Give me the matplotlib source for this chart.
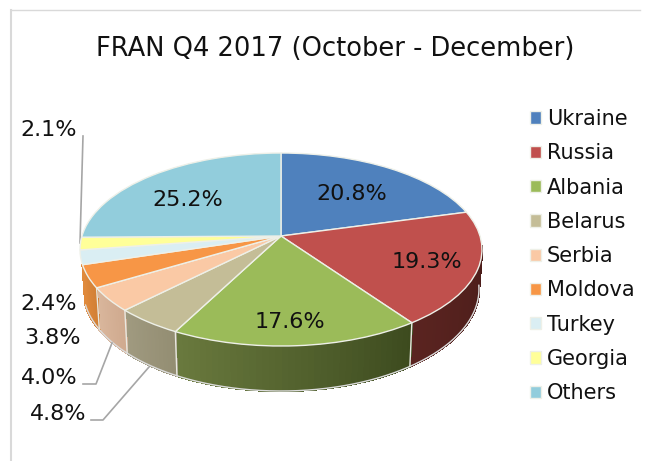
import numpy as np
import matplotlib
matplotlib.use("Agg")
import matplotlib.pyplot as plt
from matplotlib.transforms import Transform
from matplotlib.colors import to_rgb

title = "FRAN Q4 2017 (October - December)"
categories = ["Ukraine", "Russia", "Albania", "Belarus", "Serbia", "Moldova", "Turkey", "Georgia", "Others"]
values = [20.8, 19.3, 17.6, 4.8, 4.0, 3.8, 2.4, 2.1, 25.2]
colors = ["#4f81bd", "#c0504d", "#9bbb59", "#c4bd97", "#fac9a5", "#f79646", "#daeef3", "#ffff99", "#92cddc"]
side_left = ["#4f81bd", "#5a2420", "#6a7a3e", "#a09a80", "#d9b69c", "#e08a3c", "#c8dde2", "#e6e68a", "#84b9c6"]
side_right = ["#4f81bd", "#4a1c1a", "#3c4a1e", "#938d72", "#cfa98e", "#d07f35", "#c8dde2", "#e6e68a", "#84b9c6"]

CX, CY, A, B, K, DEPTH, SHRINK = 281.0, 236.0, 199.0, 94.6, 0.14, 38.7, 0.985


class Perspective(Transform):
    input_dims = 2
    output_dims = 2

    def transform_non_affine(self, xy):
        xy = np.asarray(xy, float)
        w = 1 + K * xy[:, 1]
        return np.column_stack([CX + A * xy[:, 0] / w, CY - B * xy[:, 1] / w])


def rim(theta):
    u, v = np.sin(theta), np.cos(theta)
    w = 1 + K * v
    return CX + A * u / w, CY - B * v / w


def rim_low(theta):
    x, y = rim(theta)
    return CX + (x - CX) * SHRINK, y + DEPTH / (1 + K * np.cos(theta))


fig = plt.figure(figsize=(6.52, 4.61), dpi=100)
ax = fig.add_axes([0, 0, 1, 1])

wedges, _ = ax.pie(values, colors=colors, startangle=90, counterclock=False, radius=1,
                   wedgeprops=dict(edgecolor="#eef0e8", linewidth=1.0))
persp = Perspective()
for w in wedges:
    w.set_transform(persp + ax.transData)
    w.set_zorder(5)

ax.set_xlim(0, 652)
ax.set_ylim(461, 0)
ax.set_aspect("auto")
ax.set_axis_off()

# side wall of the disc: Russia through Moldova are the faces seen from the front
total = sum(values)
edges = np.cumsum([0] + values) / total * 2 * np.pi
t_lo = np.radians(96)
t_hi = edges[6]
for i, col in enumerate(colors):
    a0, a1 = max(edges[i], t_lo), min(edges[i + 1], t_hi)
    if a1 <= a0:
        continue
    ts = np.linspace(a0, a1, 40)
    xs, ys = rim(ts)
    xl, yl = rim_low(ts)
    c_r, c_l = np.array(to_rgb(side_right[i])), np.array(to_rgb(side_left[i]))
    for j in range(len(ts) - 1):
        f = (j + 0.5) / (len(ts) - 1)
        c = c_r + (c_l - c_r) * f
        ax.fill([xs[j], xs[j + 1], xl[j + 1], xl[j]],
                [ys[j], ys[j + 1], yl[j + 1], yl[j]],
                color=c, lw=1.0, antialiased=False, zorder=2)
    if i >= 2:
        x0, y0 = rim(a0)
        x1, y1 = rim_low(a0)
        ax.plot([x0, x1], [y0, y1], color="#e8e8e0", lw=1.0, zorder=3)
ts = np.linspace(t_lo, t_hi, 200)
xl, yl = rim_low(ts)
ax.plot(xl, yl, color="#dcdcdc", lw=1.0, zorder=3)

# value labels
inner = {"Ukraine": (352, 194), "Russia": (427, 262), "Albania": (290, 322), "Others": (188, 200)}
outer = {"Georgia": (49, 130), "Turkey": (49, 304), "Moldova": (53, 338), "Serbia": (49, 378), "Belarus": (58, 414)}
for name, val in zip(categories, values):
    if name in inner or name in outer:
        x, y = inner.get(name, outer.get(name))
        ax.text(x, y, f"{val:.1f}%", ha="center", va="center", fontsize=16,
                color="#111111", zorder=6)

# leader lines
for lx, ly in [((83, 80), (136, 243)), ((83, 96, 112), (384, 384, 343)), ((91, 103, 149), (420, 420, 367))]:
    ax.plot(lx, ly, color="#a6a6a6", lw=1.2, zorder=4)

# chart frame
ax.plot([11, 11], [10, 461], color="#d9d9d9", lw=1.5, zorder=1)
ax.plot([11, 640], [10, 10], color="#d9d9d9", lw=1.0, zorder=1)

ax.text(335.5, 49, title, ha="center", va="center", fontsize=18.5, color="#111111")

leg = ax.legend(wedges, categories, loc="upper left", bbox_to_anchor=(530 / 652, 1 - 109 / 461),
                frameon=False, fontsize=15, handlelength=0.53, handleheight=0.53,
                handletextpad=0.29, labelspacing=0.685, borderpad=0, borderaxespad=0,
                labelcolor="#111111")
fig.savefig("out.png", dpi=100)
